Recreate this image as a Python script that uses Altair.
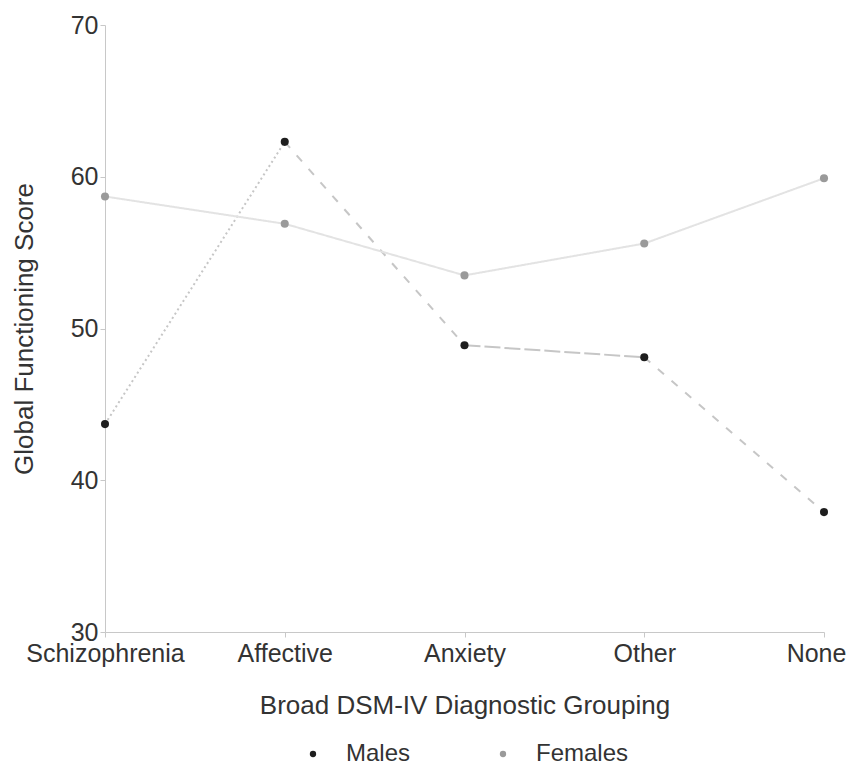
import altair as alt
import pandas as pd

categories = ["Schizophrenia", "Affective", "Anxiety", "Other", "None"]
males = [43.7, 62.3, 48.9, 48.1, 37.9]
females = [58.7, 56.9, 53.5, 55.6, 59.9]
series_names = ["Males", "Females"]
point_colors = ["#1e1e1e", "#9a9a9a"]
line_colors = {"Males": "#c6c6c6", "Females": "#e3e3e3"}
male_styles = ["dotted", "dashed", "longdash", "dashed"]
y_ticks = [30, 40, 50, 60, 70]

points = pd.DataFrame(
    [{"cat": c, "score": v, "series": "Males"} for c, v in zip(categories, males)]
    + [{"cat": c, "score": v, "series": "Females"} for c, v in zip(categories, females)]
)

seg_rows = []
for name, vals in (("Males", males), ("Females", females)):
    for i in range(len(categories) - 1):
        style = male_styles[i] if name == "Males" else "solid"
        for j in (i, i + 1):
            seg_rows.append({
                "cat": categories[j], "score": vals[j], "series": name,
                "seg": f"{name}-{i}", "style": style, "lcolor": line_colors[name],
            })
segs = pd.DataFrame(seg_rows)

FONT = "Liberation Sans"

x_enc = alt.X("cat:N", sort=categories, scale=alt.Scale(type="point", padding=0),
              axis=alt.Axis(title="Broad DSM-IV Diagnostic Grouping", labelAngle=0,
                            labelFontSize=25, titleFontSize=26, labelPadding=4,
                            titlePadding=26, tickSize=5, labelColor="#333",
                            titleColor="#333", titleFontWeight="normal",
                            labelOffset={"condition": {"test": "datum.value === 'None'", "value": -8}, "value": 0},
                            domainColor="#c8c8c8", tickColor="#c8c8c8",
                            labelFont=FONT, titleFont=FONT))
y_enc = alt.Y("score:Q", scale=alt.Scale(domain=[30, 70], nice=False, zero=False),
              axis=alt.Axis(title="Global Functioning Score", values=y_ticks,
                            labelFontSize=25, titleFontSize=26, labelPadding=2,
                            titlePadding=33, tickSize=5, labelColor="#333",
                            titleColor="#333", titleFontWeight="normal", grid=False,
                            domainColor="#c8c8c8", tickColor="#c8c8c8",
                            labelFont=FONT, titleFont=FONT))

lines = alt.Chart(segs).mark_line(strokeWidth=2).encode(
    x=x_enc, y=y_enc,
    detail="seg:N",
    color=alt.Color("lcolor:N", scale=None),
    strokeDash=alt.StrokeDash("style:N", legend=None,
                              scale=alt.Scale(domain=["solid", "dotted", "dashed", "longdash"],
                                              range=[[1, 0], [2, 3], [8, 10], [16, 4]])),
)

dots = alt.Chart(points).mark_circle(size=65, opacity=1).encode(
    x=x_enc, y=y_enc,
    color=alt.Color("series:N", sort=series_names,
                    scale=alt.Scale(domain=series_names, range=point_colors),
                    legend=alt.Legend(title=None, orient="none", direction="horizontal",
                                      legendX=196, legendY=717, labelFontSize=24,
                                      labelFont=FONT, labelColor="#333",
                                      symbolSize=40, symbolType="circle",
                                      labelOffset=21, columnPadding=80)),
)

chart = alt.layer(lines, dots).properties(
    width=719, height=607,
    background="white",
    padding={"left": 97, "top": 17, "right": 22, "bottom": 133},
    autosize=alt.AutoSizeParams(type="none"),
).configure_view(stroke=None)

chart.save("out.html", embed_options={"renderer": "svg", "actions": False})
